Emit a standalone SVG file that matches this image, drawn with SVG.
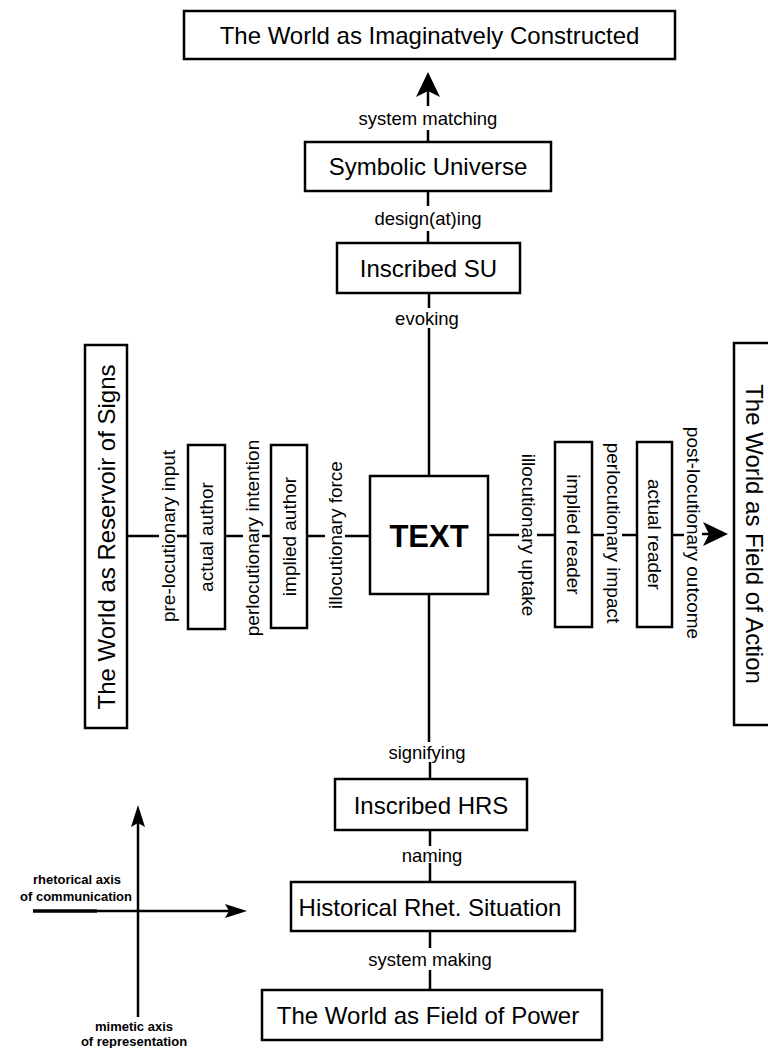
<svg xmlns="http://www.w3.org/2000/svg" width="768" height="1048" viewBox="0 0 768 1048">
<style>
.box{fill:#fff;stroke:#000;stroke-width:2.5}
.big{font-family:"Liberation Sans",Arial,sans-serif;font-size:24px;fill:#000;text-anchor:middle;dominant-baseline:central}
.lbl{font-family:"Liberation Sans",Arial,sans-serif;font-size:18.5px;fill:#000;text-anchor:middle;dominant-baseline:central}
.rl{font-family:"Liberation Sans",Arial,sans-serif;font-size:19px;fill:#000;text-anchor:middle;dominant-baseline:central}
.leg{font-family:"Liberation Sans",Arial,sans-serif;font-size:13px;font-weight:bold;fill:#000;text-anchor:middle}
.ln{stroke:#000;stroke-width:2.5;fill:none}
</style>
<defs>
<marker id="ah" viewBox="0 0 25 24" refX="6" refY="12" markerWidth="25" markerHeight="24" markerUnits="userSpaceOnUse" orient="auto">
<path d="M0,0 L25,12 L0,24 L6,12 Z" fill="#000"/>
</marker>
<marker id="ahs" viewBox="0 0 22 14" refX="4" refY="7" markerWidth="22" markerHeight="14" markerUnits="userSpaceOnUse" orient="auto">
<path d="M0,0 L22,7 L0,14 L4,7 Z" fill="#000"/>
</marker>
</defs>
<g id="connectors">
<line class="ln" x1="428" y1="106" x2="428" y2="91" marker-end="url(#ah)"/>
<line class="ln" x1="428" y1="130" x2="428" y2="142"/>
<line class="ln" x1="428" y1="191" x2="428" y2="206"/>
<line class="ln" x1="428" y1="231" x2="428" y2="243"/>
<line class="ln" x1="429" y1="293" x2="429" y2="308"/>
<line class="ln" x1="429" y1="328" x2="429" y2="476"/>
<line class="ln" x1="429" y1="594" x2="429" y2="742"/>
<line class="ln" x1="430" y1="762" x2="430" y2="779"/>
<line class="ln" x1="430" y1="830" x2="430" y2="846"/>
<line class="ln" x1="430" y1="863" x2="430" y2="882"/>
<line class="ln" x1="430" y1="931" x2="430" y2="948"/>
<line class="ln" x1="430" y1="970" x2="430" y2="990"/>
<line class="ln" x1="127" y1="536" x2="159" y2="536"/>
<line class="ln" x1="177" y1="536" x2="188" y2="536"/>
<line class="ln" x1="225" y1="536" x2="243" y2="536"/>
<line class="ln" x1="262" y1="536" x2="271" y2="536"/>
<line class="ln" x1="307" y1="536" x2="325" y2="536"/>
<line class="ln" x1="345" y1="536" x2="370" y2="536"/>
<line class="ln" x1="488" y1="535" x2="519" y2="535"/>
<line class="ln" x1="537" y1="535" x2="555" y2="535"/>
<line class="ln" x1="592" y1="535" x2="604" y2="535"/>
<line class="ln" x1="622" y1="535" x2="637" y2="535"/>
<line class="ln" x1="672" y1="535" x2="684" y2="535"/>
<line class="ln" x1="702" y1="534" x2="709" y2="534" marker-end="url(#ah)"/>
</g>
<g id="edge-labels">
<text class="lbl" x="428" y="118">system matching</text>
<text class="lbl" x="428" y="218">design(at)ing</text>
<text class="lbl" x="427" y="318">evoking</text>
<text class="lbl" x="427" y="752">signifying</text>
<text class="lbl" x="432" y="855">naming</text>
<text class="lbl" x="430" y="959">system making</text>
<text class="rl" transform="translate(168,536) rotate(-90)">pre-locutionary input</text>
<text class="rl" transform="translate(252,538) rotate(-90)">perlocutionary intention</text>
<text class="rl" transform="translate(335,535) rotate(-90)">illocutionary force</text>
<text class="rl" transform="translate(528,535) rotate(90)">illocutionary uptake</text>
<text class="rl" transform="translate(613,533) rotate(90)">perlocutionary impact</text>
<text class="rl" transform="translate(693,533) rotate(90)">post-locutionary outcome</text>
</g>
<g id="world-imaginatively">
<rect class="box" x="184" y="11" width="491" height="48"/>
<text class="big" x="429.5" y="35">The World as Imaginatvely Constructed</text>
</g>
<g id="symbolic-universe">
<rect class="box" x="305" y="142" width="246" height="49"/>
<text class="big" x="428" y="166.5">Symbolic Universe</text>
</g>
<g id="inscribed-su">
<rect class="box" x="337" y="243" width="183" height="50"/>
<text class="big" x="428.5" y="268">Inscribed SU</text>
</g>
<g id="text-node">
<rect class="box" x="370" y="476" width="118" height="118"/>
<text class="big" x="429" y="536" style="font-size:31px;font-weight:bold">TEXT</text>
</g>
<g id="world-reservoir">
<rect class="box" x="85" y="345" width="42" height="383"/>
<text class="big" transform="translate(106,537) rotate(-90)">The World as Reservoir of Signs</text>
</g>
<g id="actual-author">
<rect class="box" x="188" y="445" width="37" height="184"/>
<text class="rl" transform="translate(206.5,537) rotate(-90)">actual author</text>
</g>
<g id="implied-author">
<rect class="box" x="271" y="445" width="36" height="183"/>
<text class="rl" transform="translate(289,536.5) rotate(-90)">implied author</text>
</g>
<g id="implied-reader">
<rect class="box" x="555" y="442" width="37" height="185"/>
<text class="rl" transform="translate(573.5,534.5) rotate(90)">implied reader</text>
</g>
<g id="actual-reader">
<rect class="box" x="637" y="442" width="35" height="185"/>
<text class="rl" transform="translate(654.5,534.5) rotate(90)">actual reader</text>
</g>
<g id="world-action">
<rect class="box" x="734" y="343" width="46" height="382"/>
<text class="big" transform="translate(754,534) rotate(90)">The World as Field of Action</text>
</g>
<g id="inscribed-hrs">
<rect class="box" x="335" y="779" width="192" height="51"/>
<text class="big" x="431" y="805">Inscribed HRS</text>
</g>
<g id="historical-rs">
<rect class="box" x="291" y="882" width="284" height="49"/>
<text class="big" x="430" y="907">Historical Rhet. Situation</text>
</g>
<g id="world-power">
<rect class="box" x="262" y="990" width="340" height="50"/>
<text class="big" x="428" y="1015">The World as Field of Power</text>
</g>
<g id="legend">
<line class="ln" x1="138" y1="1017" x2="138" y2="823" marker-end="url(#ahs)"/>
<line class="ln" x1="97" y1="911" x2="229" y2="911" marker-end="url(#ahs)"/>
<line x1="33" y1="911" x2="97" y2="911" stroke="#000" stroke-width="3.5"/>
<text class="leg" x="77" y="884">rhetorical axis</text>
<text class="leg" x="76" y="901">of communication</text>
<text class="leg" x="134" y="1031">mimetic axis</text>
<text class="leg" x="134" y="1046">of representation</text>
</g>
</svg>
